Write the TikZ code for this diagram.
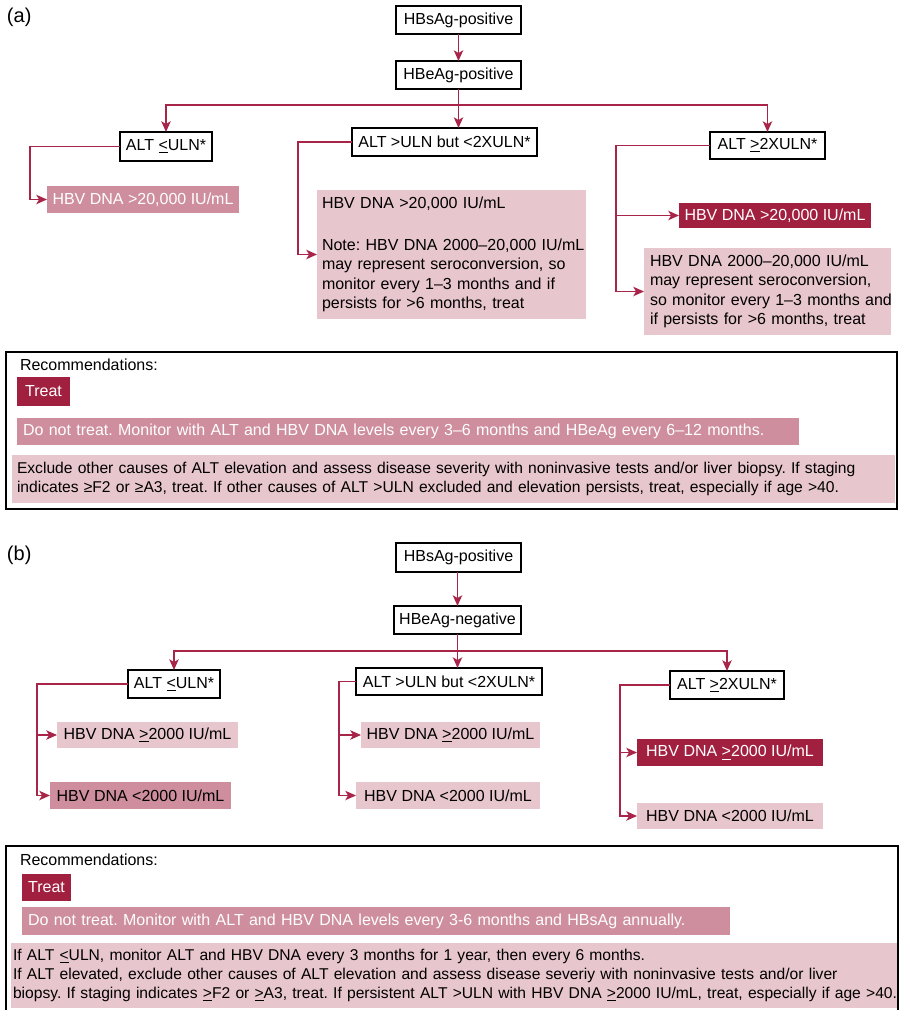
\documentclass[tikz,border=0pt]{standalone}
\usepackage{fontspec}
\setmainfont{Liberation Sans}
\usetikzlibrary{arrows.meta}
\definecolor{hbvdark}{RGB}{161,32,63}
\definecolor{hbvmid}{RGB}{206,142,158}
\definecolor{hbvlight}{RGB}{232,198,205}
\definecolor{hbvline}{RGB}{168,36,72}
\newcommand{\ul}[1]{\underline{#1}}
\newcommand{\oneline}[1]{\mbox{#1}}
\tikzset{
  every node/.style={font=\fontsize{12}{14.5}\selectfont, inner sep=0pt, outer sep=0pt},
  sz/.style 2 args={minimum width=#1*0.75pt, minimum height=#2*0.75pt},
  ltxt/.style n args={3}{text width=#1*0.75pt, inner xsep=#2*0.75pt, minimum height=#3*0.75pt, align=left},
  testbox/.style={draw=black, line width=0.9pt, fill=white},
  darkbox/.style={fill=hbvdark, text=white},
  midbox/.style={fill=hbvmid, text=white},
  lightbox/.style={fill=hbvlight, text=black},
  smalltext/.style={font=\fontsize{11.72}{14.25}\selectfont},
  panel/.style={font=\fontsize{15}{18}\selectfont, anchor=west},
  conn/.style={draw=hbvline, line width=1.1pt, -{Stealth[length=8pt,width=7pt,inset=2pt]}},
  link/.style={draw=hbvline, line width=1.1pt},
  frame/.style={draw=black, line width=1.2pt},
}
\begin{document}
\frenchspacing
\begin{tikzpicture}[x=0.75pt,y=-0.75pt]
\useasboundingbox (0,0) rectangle (900,1010);

% ---------------- (a) HBeAg-positive ----------------
\node[panel] (labA) at (7,17) {(a)};
\node[testbox, sz={125}{28}] (sA) at (458.5,20) {HBsAg-positive};
\node[testbox, sz={125}{28}] (eA) at (458.5,75) {HBeAg-positive};
\node[testbox, sz={92}{29}] (a1) at (166,146.5) {ALT \ul{<}ULN*};
\node[testbox, sz={185}{28}] (a2) at (444.5,142) {ALT >ULN but <2XULN*};
\node[testbox, sz={115}{27}] (a3) at (767.5,145.5) {ALT \ul{>}2XULN*};

\node[midbox, sz={192}{27}] (d1) at (143,199.5) {HBV DNA >20,000 IU/mL};
\node[lightbox, ltxt={259}{5}{129}] (d2) at (451.5,254.5)
  {\oneline{HBV DNA >20,000 IU/mL}\\[17pt]\oneline{Note: HBV DNA 2000–20,000 IU/mL}\\\oneline{may represent seroconversion, so}\\\oneline{monitor every 1–3 months and if}\\\oneline{persists for >6 months, treat}};
\node[darkbox, sz={192}{25}] (d3) at (775,215.5) {HBV DNA >20,000 IU/mL};
\node[lightbox, ltxt={235}{6}{87}] (d4) at (767.5,291.5)
  {\oneline{HBV DNA 2000–20,000 IU/mL}\\\oneline{may represent seroconversion,}\\\oneline{so monitor every 1–3 months and}\\\oneline{if persists for >6 months, treat}};

\coordinate (hA) at (0,105);
\coordinate (kA1) at (30,0);
\coordinate (kA2) at (298,0);
\coordinate (kA3) at (616,0);
\draw[conn] (sA.south) -- (eA.north);
\draw[link] (eA.south) -- (eA.south |- hA);
\draw[conn] (eA.south |- hA) -| (a1.north);
\draw[conn] (eA.south |- hA) -| (a3.north);
\draw[conn] (eA.south |- hA) -- (eA.south |- a2.north);
\draw[conn] (a1.west) -- (a1.west -| kA1) |- (d1.west);
\draw[conn] (a2.west) -- (a2.west -| kA2) |- (d2.west);
\draw[conn] (a3.west) -- (a3.west -| kA3) |- (d3.west);
\draw[conn] (a3.west -| kA3) |- (d4.west);

% recommendations (a)
\draw[frame] (6,352) rectangle (897,509);
\node[anchor=west] (rtA) at (20,365) {Recommendations:};
\node[darkbox, sz={53}{29}] (tA) at (43.5,391.5) {Treat};
\node[midbox, ltxt={770}{6}{27}, anchor=west] (nA) at (17,431.5)
  {\oneline{Do not treat. Monitor with ALT and HBV DNA levels every 3–6 months and HBeAg every 6–12 months.}};
\node[lightbox, smalltext, ltxt={873}{5}{48}, anchor=west] (xA) at (12,479)
  {\oneline{Exclude other causes of ALT elevation and assess disease severity with noninvasive tests and/or liver biopsy. If staging}\\\oneline{indicates ≥F2 or ≥A3, treat. If other causes of ALT >ULN excluded and elevation persists, treat, especially if age >40.}};

% ---------------- (b) HBeAg-negative ----------------
\node[panel] (labB) at (7,555) {(b)};
\node[testbox, sz={125}{29}] (sB) at (458.5,557.5) {HBsAg-positive};
\node[testbox, sz={127}{28}] (eB) at (457.5,620) {HBeAg-negative};
\node[testbox, sz={92}{28}] (b1) at (174,684) {ALT \ul{<}ULN*};
\node[testbox, sz={186}{27}] (b2) at (449,681.5) {ALT >ULN but <2XULN*};
\node[testbox, sz={114}{28}] (b3) at (727,685) {ALT \ul{>}2XULN*};

\node[lightbox, sz={181}{26}] (e1) at (147.5,735) {HBV DNA \ul{>}2000 IU/mL};
\node[midbox, text=black, sz={181}{27}] (e2) at (140.5,795.5) {HBV DNA <2000 IU/mL};
\node[lightbox, sz={179}{26}] (e3) at (450.5,735) {HBV DNA \ul{>}2000 IU/mL};
\node[lightbox, sz={184}{27}] (e4) at (448,795.5) {HBV DNA <2000 IU/mL};
\node[darkbox, sz={186}{27}] (e5) at (730,752.5) {HBV DNA \ul{>}2000 IU/mL};
\node[lightbox, sz={186}{26}] (e6) at (730,816) {HBV DNA <2000 IU/mL};

\coordinate (hB) at (0,651);
\coordinate (kB1) at (37,0);
\coordinate (kB2) at (339,0);
\coordinate (kB3) at (620,0);
\draw[conn] (eB.north |- sB.south) -- (eB.north);
\draw[link] (eB.south) -- (eB.south |- hB);
\draw[conn] (eB.south |- hB) -| (b1.north);
\draw[conn] (eB.south |- hB) -| (b3.north);
\draw[conn] (eB.south |- hB) -- (eB.south |- b2.north);
\draw[conn] (b1.west) -- (b1.west -| kB1) |- (e1.west);
\draw[conn] (b1.west -| kB1) |- (e2.west);
\draw[conn] (b2.west) -- (b2.west -| kB2) |- (e3.west);
\draw[conn] (b2.west -| kB2) |- (e4.west);
\draw[conn] (b3.west) -- (b3.west -| kB3) |- (e5.west);
\draw[conn] (b3.west -| kB3) |- (e6.west);

% recommendations (b)
\draw[frame] (6,1012) |- (898,846) -- (898,1012);
\node[anchor=west] (rtB) at (20,860) {Recommendations:};
\node[darkbox, sz={49}{27}] (tB) at (46.5,887.5) {Treat};
\node[midbox, ltxt={696}{6}{28}, anchor=west] (nB) at (22,921)
  {\oneline{Do not treat. Monitor with ALT and HBV DNA levels every 3-6 months and HBsAg annually.}};
\node[lightbox, smalltext, ltxt={882}{2}{65}, anchor=west] (xB) at (11,975.5)
  {\oneline{If ALT \ul{<}ULN, monitor ALT and HBV DNA every 3 months for 1 year, then every 6 months.}\\\oneline{If ALT elevated, exclude other causes of ALT elevation and assess disease severiy with noninvasive tests and/or liver}\\\oneline{biopsy. If staging indicates \ul{>}F2 or \ul{>}A3, treat. If persistent ALT >ULN with HBV DNA \ul{>}2000 IU/mL, treat, especially if age >40.}};
\end{tikzpicture}
\end{document}
